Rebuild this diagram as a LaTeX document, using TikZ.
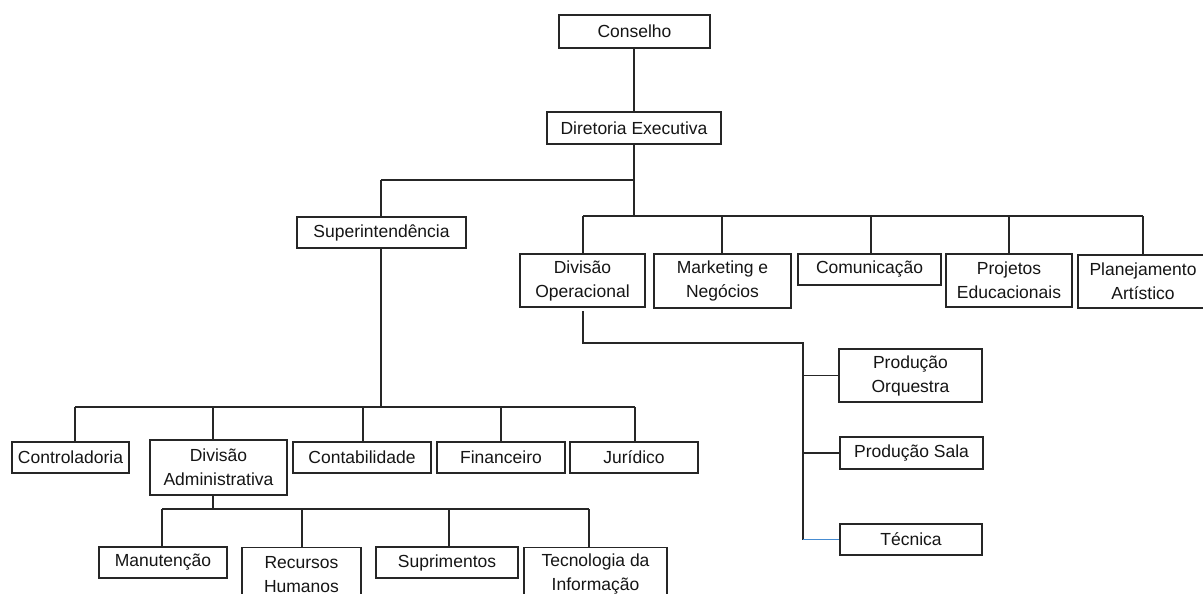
\documentclass[tikz,border=0pt]{standalone}
\usepackage{fontspec}
\setmainfont{Liberation Sans}
\definecolor{ln}{HTML}{262626}
\definecolor{tx}{HTML}{151515}
\definecolor{bl}{RGB}{70,140,210}
\begin{document}
\begin{tikzpicture}[x=1pt,y=-1pt,
  box/.style={draw=ln,line width=1.2pt,fill=white,text=tx,inner sep=0pt,align=center,
    font=\fontsize{17.5}{24}\selectfont},
  conn/.style={draw=ln,line width=1.2pt}]
\useasboundingbox (0,0) rectangle (1203,594);
\fill[white] (0,0) rectangle (1203,594);
\node[box,minimum width=151pt,minimum height=33pt] (cons) at (634.5,31.5) {Conselho};
\node[box,minimum width=174pt,minimum height=32pt] (dir) at (634,128) {Diretoria Executiva};
\node[box,minimum width=169pt,minimum height=31pt] (sup) at (381.5,232.5) {Superintendência};
\node[box,minimum width=125pt,minimum height=53pt] (divop) at (582.5,280.5) {Divisão\\Operacional};
\node[box,minimum width=137pt,minimum height=54pt] (mkt) at (722.5,281) {Marketing e\\Negócios};
\node[box,minimum width=143pt,minimum height=31pt] (com) at (869.5,269.5) {Comunicação};
\node[box,minimum width=126pt,minimum height=53pt] (proj) at (1009,280.5) {Projetos\\Educacionais};
\node[box,minimum width=130pt,minimum height=53pt] (plan) at (1143,281.5) {Planejamento\\Artístico};
\node[box,minimum width=117pt,minimum height=31pt] (ctrl) at (70.5,457.5) {Controladoria};
\node[box,minimum width=137pt,minimum height=55pt] (dadm) at (218.5,467.5) {Divisão\\Administrativa};
\node[box,minimum width=138pt,minimum height=31pt] (cont) at (362,457.5) {Contabilidade};
\node[box,minimum width=128pt,minimum height=31pt] (fin) at (501,457.5) {Financeiro};
\node[box,minimum width=128pt,minimum height=31pt] (jur) at (634,457.5) {Jurídico};
\node[box,minimum width=128pt,minimum height=31pt] (man) at (163,562.5) {Manutenção};
\node[box,minimum width=119pt,minimum height=53pt,anchor=north] (rh) at (301.5,547) {Recursos\\Humanos};
\node[box,minimum width=142pt,minimum height=31pt] (supr) at (447,562.5) {Suprimentos};
\node[box,minimum width=143pt,minimum height=53pt,anchor=north] (ti) at (595.5,547) {Tecnologia da\\Informação};
\node[box,minimum width=143pt,minimum height=53pt] (po) at (910.5,375.5) {Produção\\Orquestra};
\node[box,minimum width=143pt,minimum height=32pt] (ps) at (911.5,453) {Produção Sala};
\node[box,minimum width=142pt,minimum height=31pt] (tec) at (911,539.5) {Técnica};
% junction coordinates
\coordinate (jA) at (634,180);
\coordinate (jB) at (634,216);
\coordinate (jS) at (381,180);
\coordinate (rL) at (583,216);
\coordinate (rR) at (1143,216);
\coordinate (lb) at (381,407);
\coordinate (lL) at (75,407);
\coordinate (lR) at (635,407);
\coordinate (bb) at (213,509);
\coordinate (bL) at (162,509);
\coordinate (bR) at (589,509);
\coordinate (oT) at (583,311);
\coordinate (oC) at (583,343);
\coordinate (oV) at (803,343);
\coordinate (oB) at (803,540);
% top
\draw[conn] (cons.south) -- (dir.south |- cons.south) -- (dir.north);
\draw[conn] (dir.south) -- (jB);
\draw[conn] (jS) -- (jA);
\draw[conn] (jS) -- (jS |- sup.north);
% right bus
\draw[conn] (rL) -- (rR);
\draw[conn] (rL) -- (rL |- divop.north);
\draw[conn] (722,216) coordinate (dm) -- (dm |- mkt.north);
\draw[conn] (871,216) coordinate (dc) -- (dc |- com.north);
\draw[conn] (1009,216) coordinate (dp) -- (dp |- proj.north);
\draw[conn] (rR) -- (rR |- plan.north);
% left bus
\draw[conn] (sup.south -| lb) -- (lb);
\draw[conn] (lL) -- (lR);
\draw[conn] (lL) -- (lL |- ctrl.north);
\draw[conn] (213,407) coordinate (d2) -- (d2 |- dadm.north);
\draw[conn] (363,407) coordinate (d3) -- (d3 |- cont.north);
\draw[conn] (501,407) coordinate (d4) -- (d4 |- fin.north);
\draw[conn] (lR) -- (lR |- jur.north);
% bottom bus
\draw[conn] (dadm.south -| bb) -- (bb);
\draw[conn] (bL) -- (bR);
\draw[conn] (bL) -- (bL |- man.north);
\draw[conn] (302,509) coordinate (e2) -- (e2 |- rh.north);
\draw[conn] (449,509) coordinate (e3) -- (e3 |- supr.north);
\draw[conn] (bR) -- (bR |- ti.north);
% operational branch
\draw[conn] (oT) -- (oC) -- (oV) -- (oB);
\draw[conn] (po.west -| oV) -- (po.west);
\draw[conn] (ps.west -| oV) -- (ps.west);
\draw[draw=bl,line width=1.2pt] (tec.west -| oV) -- (tec.west);
\end{tikzpicture}
\end{document}
